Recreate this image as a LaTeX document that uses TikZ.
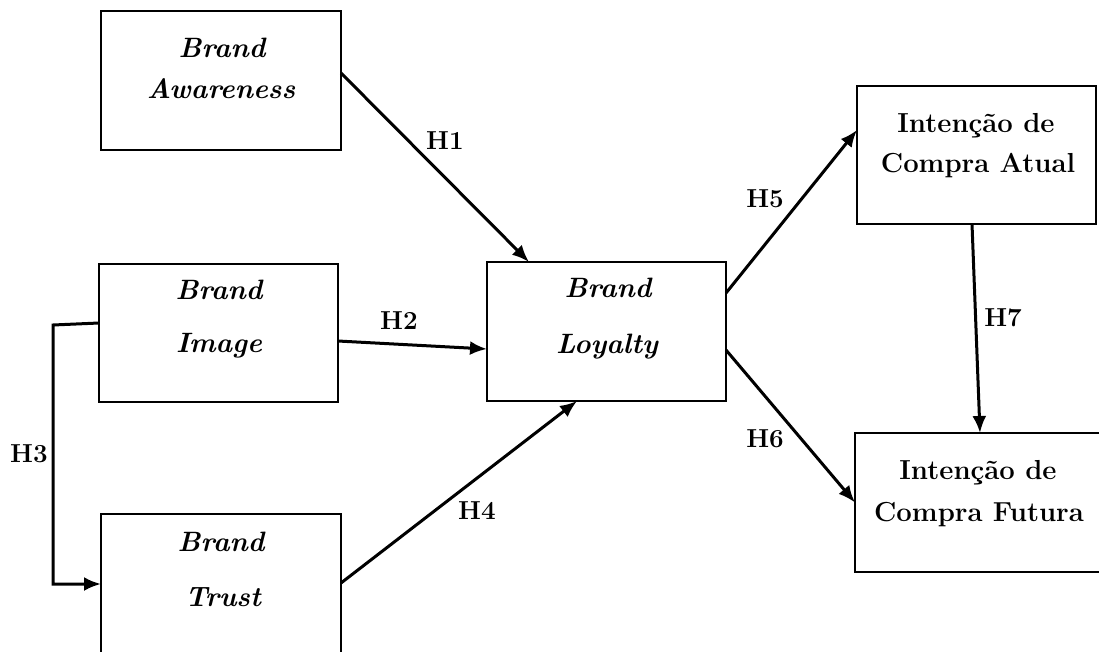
\documentclass[tikz,border=0pt]{standalone}
\usepackage{fontspec}
\usetikzlibrary{arrows.meta,calc}
\begin{document}
\begin{tikzpicture}[x=1pt,y=-1pt,
  boxnode/.style={draw=black,line width=1.5pt,minimum width=#1,inner sep=0pt,outer sep=0pt},
  boxnode/.default=240pt,
  conn/.style={line width=3pt,-{Latex[length=17pt,width=14pt]}},
  brandtxt/.style={anchor=base,inner sep=0pt,font=\fontsize{28}{30}\selectfont\bfseries\itshape},
  inttxt/.style={anchor=base,inner sep=0pt,font=\fontsize{27.5}{30}\selectfont\bfseries},
  hlab/.style={anchor=base,inner sep=0pt,font=\fontsize{26}{28}\selectfont\bfseries}]
\clip (0,0) rectangle (1099,651);
\fill[white] (0,0) rectangle (1099,651);
% boxes
\node[boxnode=240pt,minimum height=139pt] (aw) at (221,80.5) {};
\node[boxnode=239pt,minimum height=138pt] (im) at (218.5,333) {};
\node[boxnode=240pt,minimum height=140pt] (tr) at (221,584) {};
\node[boxnode=239pt,minimum height=139pt] (lo) at (606.5,331.5) {};
\node[boxnode=239pt,minimum height=138pt] (at) at (976.5,155) {};
\node[boxnode=248pt,minimum height=139pt] (fu) at (979,502.5) {};
% texts
\node[brandtxt] (aw1) at (222,57) {Brand};
\node[brandtxt] (aw2) at (221,98) {Awareness};
\node[brandtxt] (im1) at (219,299) {Brand};
\node[brandtxt] (im2) at (219,352) {Image};
\node[brandtxt] (tr1) at (221,551) {Brand};
\node[brandtxt] (tr2) at (223,606) {Trust};
\node[brandtxt] (lo1) at (608,297) {Brand};
\node[brandtxt] (lo2) at (607,353) {Loyalty};
\node[inttxt] (at1) at (976,132) {Intenção de};
\node[inttxt] (at2) at (978,172) {Compra Atual};
\node[inttxt] (fu1) at (978,479) {Intenção de};
\node[inttxt] (fu2) at (979,521) {Compra Futura};
% connectors
\coordinate (h3a) at (53,325);
\draw[conn] ([yshift=7.5pt]aw.east) -- ([xshift=-77.5pt]lo.north);
\draw[conn] ([yshift=-8pt]im.east) -- ([yshift=-17.5pt]lo.west);
\draw[conn] ([yshift=10pt]im.west) -- (h3a) |- (tr.west);
\draw[conn] ([yshift=1pt]tr.east) -- ([xshift=-29.5pt]lo.south);
\draw[conn] ([yshift=38.5pt]lo.east) -- ([yshift=25pt]at.west);
\draw[conn] ([yshift=-18.5pt]lo.east) -- (fu.west);
\draw[conn] ([xshift=-4.5pt]at.south) -- ([xshift=1pt]fu.north);
% labels
\node[hlab] (l1) at (445,149) {H1};
\node[hlab] (l2) at (399,329) {H2};
\node[hlab] (l3) at (29,462) {H3};
\node[hlab] (l4) at (477,519) {H4};
\node[hlab] (l5) at (765,207) {H5};
\node[hlab] (l6) at (765,447) {H6};
\node[hlab] (l7) at (1003,326) {H7};
\end{tikzpicture}
\end{document}
